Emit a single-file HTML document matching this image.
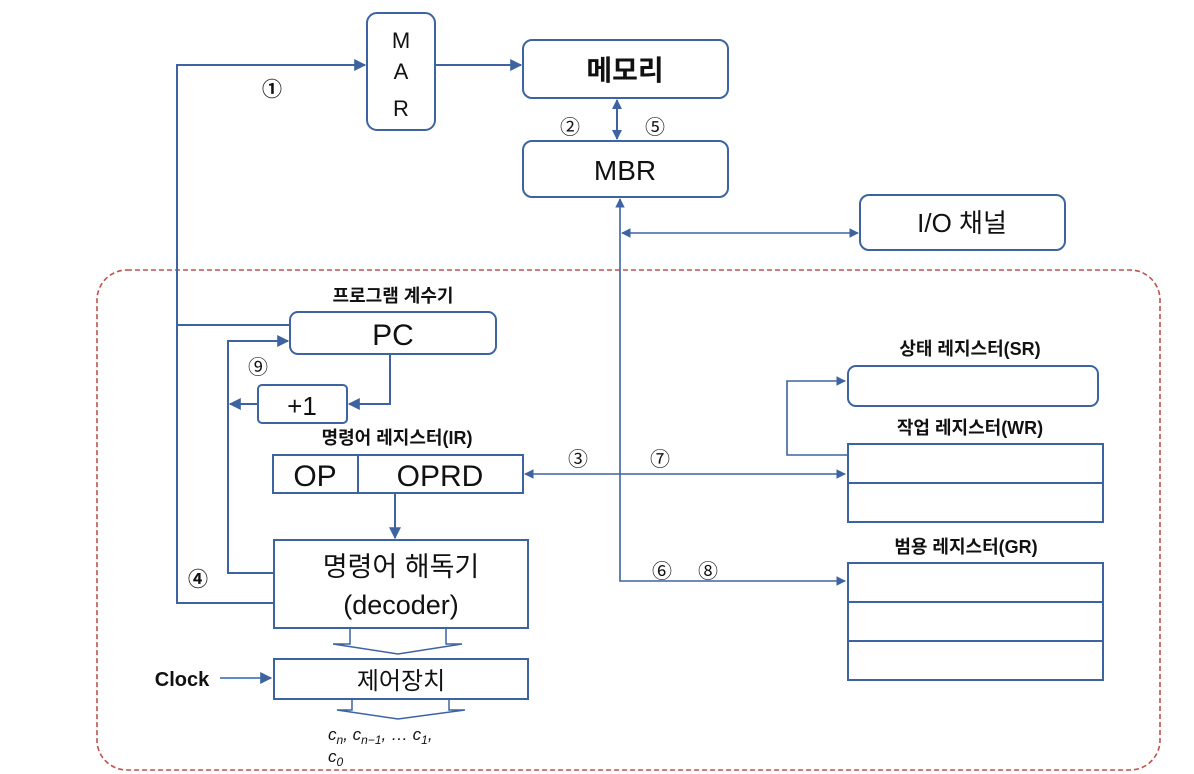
<!DOCTYPE html>
<html><head><meta charset="utf-8"><style>
html,body{margin:0;padding:0;background:#fff;}
svg{display:block;}
text{font-family:"Liberation Sans","Noto Sans CJK KR",sans-serif;fill:#111;}
</style></head><body>
<svg width="1194" height="774" viewBox="0 0 1194 774" xmlns="http://www.w3.org/2000/svg">
<defs>
<marker id="a" viewBox="0 0 10 10" refX="9" refY="5" markerWidth="6" markerHeight="6" orient="auto-start-reverse"><path d="M0,0 L10,5 L0,10 z" fill="#3d64a0"/></marker>
<marker id="s" viewBox="0 0 10 10" refX="9" refY="5" markerWidth="5" markerHeight="5" orient="auto-start-reverse"><path d="M0,0 L10,5 L0,10 z" fill="#3d64a0"/></marker>
</defs>
<g fill="none" stroke="#3d64a0" stroke-width="2">
<rect x="97" y="270" width="1063" height="500" rx="30" stroke="#c0504d" stroke-dasharray="5,3" stroke-width="1.6"/>
<rect x="367" y="13" width="68" height="117" rx="10"/>
<rect x="523" y="40" width="205" height="58" rx="9"/>
<rect x="523" y="141" width="205" height="56" rx="9"/>
<rect x="860" y="195" width="205" height="55" rx="9"/>
<rect x="290" y="312" width="206" height="42" rx="8"/>
<rect x="258" y="385" width="89" height="38" rx="4"/>
<rect x="273" y="455" width="250" height="38"/>
<line x1="358" y1="455" x2="358" y2="493"/>
<rect x="274" y="540" width="254" height="88"/>
<rect x="274" y="659" width="254" height="40"/>
<rect x="848" y="366" width="250" height="40" rx="8"/>
<rect x="848" y="444" width="255" height="78"/>
<line x1="848" y1="483" x2="1103" y2="483"/>
<rect x="848" y="563" width="255" height="117"/>
<line x1="848" y1="602" x2="1103" y2="602"/>
<line x1="848" y1="641" x2="1103" y2="641"/>
<path d="M350,628 V644 H333 L398,654 L462,644 H446 V628" stroke-width="1.5"/>
<path d="M352,700 V710 H337 L398,719 L465,710 H449 V700" stroke-width="1.5"/>
<polyline points="274,603 177,603 177,65 365,65" marker-end="url(#a)"/>
<line x1="435" y1="65" x2="521" y2="65" marker-end="url(#a)"/>
<line x1="177" y1="325" x2="290" y2="325"/>
<line x1="617" y1="100" x2="617" y2="139" marker-start="url(#s)" marker-end="url(#s)"/>
<polyline points="845,581 620,581 620,199" marker-start="url(#a)" marker-end="url(#a)" stroke-width="1.6"/>
<line x1="622" y1="233" x2="858" y2="233" marker-start="url(#a)" marker-end="url(#a)" stroke-width="1.6"/>
<polyline points="390,354 390,404 349,404" marker-end="url(#a)"/>
<line x1="258" y1="404" x2="230" y2="404" marker-end="url(#a)"/>
<polyline points="274,573 228,573 228,341 288,341" marker-end="url(#a)"/>
<line x1="525" y1="474" x2="845" y2="474" marker-start="url(#a)" marker-end="url(#a)" stroke-width="1.6"/>
<line x1="395" y1="493" x2="395" y2="538" marker-end="url(#a)"/>
<polyline points="848,455 787,455 787,381 845,381" marker-end="url(#a)" stroke-width="1.6"/>
<line x1="220" y1="678" x2="271" y2="678" marker-end="url(#a)" stroke="#5b8bd0"/>
</g>
<g font-size="22" text-anchor="middle">
<text x="401" y="48">M</text><text x="401" y="79">A</text><text x="401" y="116">R</text>
</g>
<text x="625" y="80" font-size="28" font-weight="bold" text-anchor="middle">메모리</text>
<text x="625" y="180" font-size="28" text-anchor="middle">MBR</text>
<text x="962" y="232" font-size="26" text-anchor="middle">I/O 채널</text>
<text x="393" y="302" font-size="18" font-weight="bold" text-anchor="middle">프로그램 계수기</text>
<text x="393" y="345" font-size="30" text-anchor="middle">PC</text>
<text x="302" y="415" font-size="26" text-anchor="middle">+1</text>
<text x="397" y="444" font-size="18" font-weight="bold" text-anchor="middle">명령어 레지스터(IR)</text>
<text x="315" y="486" font-size="30" text-anchor="middle">OP</text>
<text x="440" y="486" font-size="30" text-anchor="middle">OPRD</text>
<text x="401" y="576" font-size="27" text-anchor="middle">명령어 해독기</text>
<text x="401" y="614" font-size="27" text-anchor="middle">(decoder)</text>
<text x="401" y="689" font-size="24" text-anchor="middle">제어장치</text>
<text x="182" y="686" font-size="20" font-weight="bold" text-anchor="middle">Clock</text>
<text x="328" y="740" font-size="17" font-style="italic" font-family="Liberation Serif,serif">c<tspan font-size="12" dy="4">n</tspan><tspan dy="-4">, c</tspan><tspan font-size="12" dy="4">n−1</tspan><tspan dy="-4">, … c</tspan><tspan font-size="12" dy="4">1</tspan><tspan dy="-4">,</tspan></text>
<text x="328" y="762" font-size="17" font-style="italic" font-family="Liberation Serif,serif">c<tspan font-size="12" dy="4">0</tspan></text>
<text x="970" y="355" font-size="18" font-weight="bold" text-anchor="middle">상태 레지스터(SR)</text>
<text x="970" y="434" font-size="18" font-weight="bold" text-anchor="middle">작업 레지스터(WR)</text>
<text x="966" y="553" font-size="18" font-weight="bold" text-anchor="middle">범용 레지스터(GR)</text>
<g font-size="20" text-anchor="middle" font-family="'Noto Sans CJK KR','DejaVu Sans',sans-serif">
<text x="272" y="96" font-weight="bold">①</text>
<text x="570" y="134">②</text>
<text x="655" y="134">⑤</text>
<text x="258" y="374">⑨</text>
<text x="578" y="466">③</text>
<text x="660" y="466">⑦</text>
<text x="198" y="586" font-weight="bold">④</text>
<text x="662" y="578">⑥</text>
<text x="708" y="578">⑧</text>
</g>
</svg>
</body></html>
